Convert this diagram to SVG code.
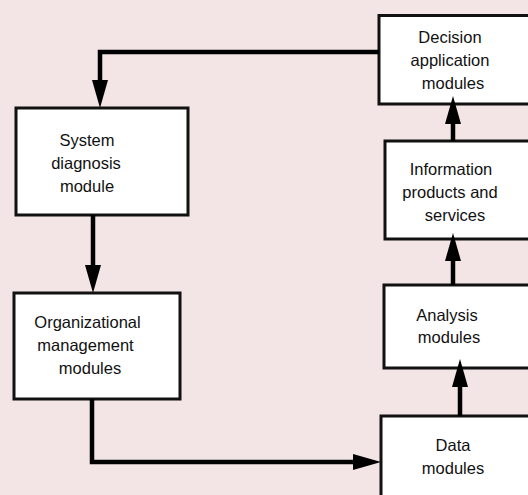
<svg xmlns="http://www.w3.org/2000/svg" width="528" height="495" viewBox="0 0 528 495">
<defs>
<style>
.box{fill:#ffffff;stroke:#111111;stroke-width:3}
.lbl{font-family:"Liberation Sans",Arial,sans-serif;font-size:16.5px;fill:#111111;text-anchor:middle}
.conn{fill:none;stroke:#000000;stroke-width:4.5}
</style>
<marker id="ah" markerUnits="userSpaceOnUse" markerWidth="30" markerHeight="18" viewBox="0 0 30 18" refX="2" refY="9" orient="auto">
<path d="M0,1 L28,9 L0,17 z" fill="#000000"/>
</marker>
</defs>
<rect x="0" y="0" width="528" height="495" fill="#f3e4e5"/>
<g id="decision">
<rect class="box" x="379" y="15.5" width="170" height="88.5"/>
<text class="lbl" x="450" y="43">Decision</text>
<text class="lbl" x="450" y="66">application</text>
<text class="lbl" x="453" y="89">modules</text>
</g>
<g id="information">
<rect class="box" x="385" y="141" width="170" height="98"/>
<text class="lbl" x="451" y="175">Information</text>
<text class="lbl" x="450" y="198">products and</text>
<text class="lbl" x="455" y="221">services</text>
</g>
<g id="analysis">
<rect class="box" x="384" y="285" width="170" height="83"/>
<text class="lbl" x="447" y="321">Analysis</text>
<text class="lbl" x="449" y="343">modules</text>
</g>
<g id="data">
<rect class="box" x="381" y="416" width="170" height="100"/>
<text class="lbl" x="453" y="451">Data</text>
<text class="lbl" x="453" y="474">modules</text>
</g>
<g id="system">
<rect class="box" x="16" y="108" width="172" height="107"/>
<text class="lbl" x="87" y="146">System</text>
<text class="lbl" x="86" y="169">diagnosis</text>
<text class="lbl" x="87" y="192">module</text>
</g>
<g id="organizational">
<rect class="box" x="14" y="293" width="166" height="106"/>
<text class="lbl" x="87.5" y="328">Organizational</text>
<text class="lbl" x="85.5" y="351">management</text>
<text class="lbl" x="90" y="374">modules</text>
</g>
<g id="connectors">
<path class="conn" d="M379,52 H100 V82" marker-end="url(#ah)"/>
<path class="conn" d="M93,215 V267" marker-end="url(#ah)"/>
<path class="conn" d="M92,399 V462 H355" marker-end="url(#ah)"/>
<path class="conn" d="M460,416 V385" marker-end="url(#ah)"/>
<path class="conn" d="M453,285 V259" marker-end="url(#ah)"/>
<path class="conn" d="M453,141 V122" marker-end="url(#ah)"/>
</g>
</svg>
